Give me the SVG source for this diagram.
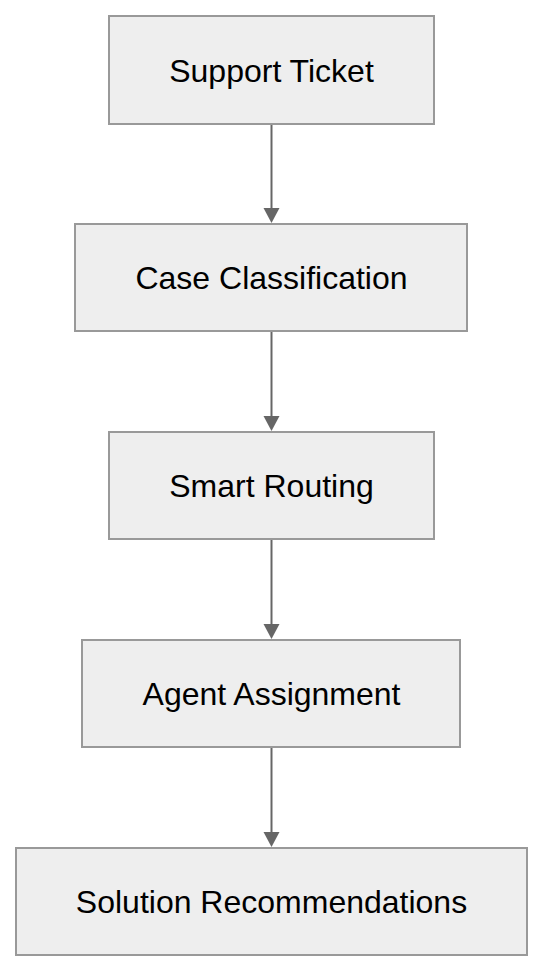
<svg xmlns="http://www.w3.org/2000/svg" width="544" height="972" viewBox="0 0 544 972">
<style>
.box{fill:#eeeeee;stroke:#999999;stroke-width:2}
.lbl{font-family:"Liberation Sans",Arial,sans-serif;font-size:32px;fill:#000;text-anchor:middle}
.edge{stroke:#666666;stroke-width:2;fill:none}
.head{fill:#666666}
</style>
<rect width="544" height="972" fill="#ffffff"/>
<g id="connectors">
<line class="edge" x1="271.5" y1="125" x2="271.5" y2="210"/>
<polygon class="head" points="263.5,208 279.5,208 271.5,223"/>
<line class="edge" x1="271.5" y1="332" x2="271.5" y2="418"/>
<polygon class="head" points="263.5,416 279.5,416 271.5,431"/>
<line class="edge" x1="271.5" y1="540" x2="271.5" y2="626"/>
<polygon class="head" points="263.5,624 279.5,624 271.5,639"/>
<line class="edge" x1="271.5" y1="748" x2="271.5" y2="834"/>
<polygon class="head" points="263.5,832 279.5,832 271.5,847"/>
</g>
<g id="n1"><rect class="box" x="109" y="16" width="325" height="108"/><text class="lbl" x="271.5" y="81.5">Support Ticket</text></g>
<g id="n2"><rect class="box" x="75" y="224" width="392" height="107"/><text class="lbl" x="271.5" y="289">Case Classification</text></g>
<g id="n3"><rect class="box" x="109" y="432" width="325" height="107"/><text class="lbl" x="271.5" y="497">Smart Routing</text></g>
<g id="n4"><rect class="box" x="82" y="640" width="378" height="107"/><text class="lbl" x="271.5" y="705">Agent Assignment</text></g>
<g id="n5"><rect class="box" x="16" y="848" width="511" height="107"/><text class="lbl" x="271.5" y="913">Solution Recommendations</text></g>
</svg>
